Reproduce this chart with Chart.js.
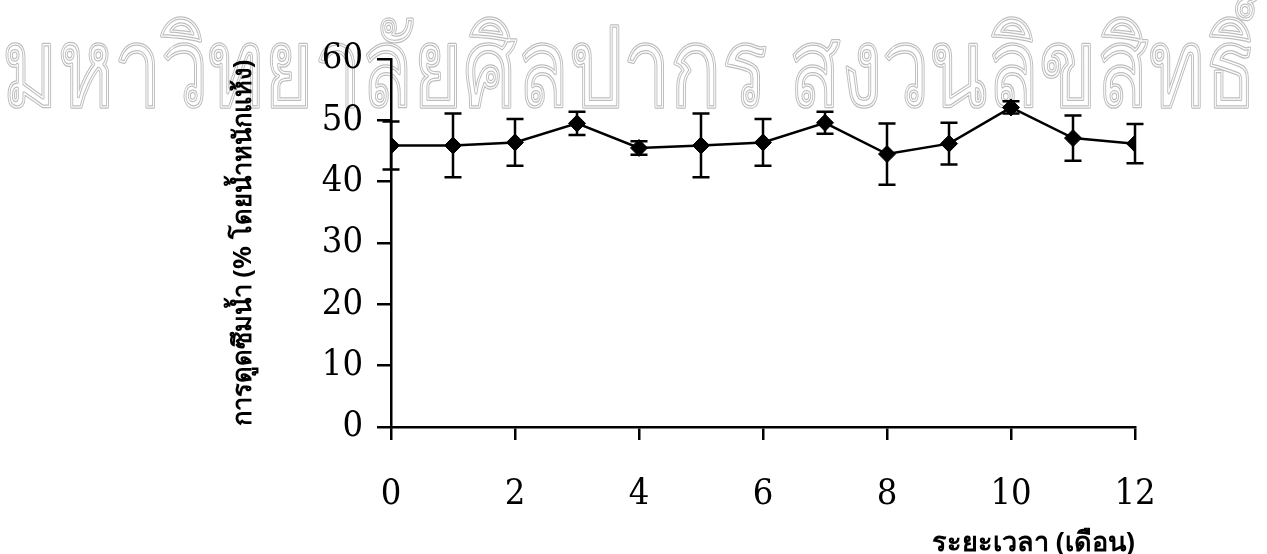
<!DOCTYPE html>
<html>
<head>
<meta charset="utf-8">
<script src="https://cdn.jsdelivr.net/npm/chart.js@4/dist/chart.umd.min.js"></script>
<style>
  html, body { margin: 0; padding: 0; background: #fff; }
  #wrap { width: 1267px; height: 554px; }
</style>
</head>
<body>
<div id="wrap"><canvas id="waterChart"></canvas></div>
<script>
// ข้อมูลจากกราฟ
const months = [0, 1, 2, 3, 4, 5, 6, 7, 8, 9, 10, 11, 12];
const absorption = [45.9, 45.9, 46.4, 49.5, 45.5, 45.9, 46.4, 49.6, 44.5, 46.2, 52.1, 47.1, 46.2];
const errors = [3.9, 5.2, 3.8, 1.9, 1.1, 5.2, 3.8, 1.8, 5.0, 3.4, 1.0, 3.7, 3.2];
const xTicks = [0, 2, 4, 6, 8, 10, 12];
const yTicks = [0, 10, 20, 30, 40, 50, 60];

const xTitle = 'ระยะเวลา (เดือน)';
const yTitle = 'การดูดซึมน้ำ (% โดยน้ำหนักแห้ง)';
const watermark = 'มหาวิทยาลัยศิลปากร สงวนลิขสิทธิ์';

const tickFont = { family: '"DejaVu Serif Condensed", "DejaVu Serif", serif', size: 36 };

// ลายน้ำตัวอักษรโปร่ง
const watermarkPlugin = {
    id: 'watermark',
    beforeDraw(chart) {
        const ctx = chart.ctx;
        ctx.save();
        ctx.font = '88px "Noto Sans", "DejaVu Sans", sans-serif';
        ctx.textBaseline = 'alphabetic';
        const w = ctx.measureText(watermark).width;
        ctx.translate(2, 106);
        ctx.scale(1255 / w, 1.24);
        ctx.lineJoin = 'round';
        ctx.strokeStyle = '#bdbdbd';
        ctx.lineWidth = 3;
        ctx.strokeText(watermark, 0, 0);
        ctx.strokeStyle = '#ffffff';
        ctx.lineWidth = 1;
        ctx.strokeText(watermark, 0, 0);
        ctx.restore();
    }
};

// เส้นแสดงค่าความคลาดเคลื่อน
const errorBarPlugin = {
    id: 'errorBars',
    afterDatasetsDraw(chart) {
        const ctx = chart.ctx;
        const xs = chart.scales.x;
        const ys = chart.scales.y;
        ctx.save();
        ctx.strokeStyle = '#000';
        ctx.lineWidth = 2.5;
        months.forEach((m, i) => {
            const px = xs.getPixelForValue(m);
            const top = ys.getPixelForValue(absorption[i] + errors[i]);
            const bot = ys.getPixelForValue(absorption[i] - errors[i]);
            ctx.beginPath();
            ctx.moveTo(px, top);
            ctx.lineTo(px, bot);
            ctx.moveTo(px - 8.5, top);
            ctx.lineTo(px + 8.5, top);
            ctx.moveTo(px - 8.5, bot);
            ctx.lineTo(px + 8.5, bot);
            ctx.stroke();
        });
        ctx.restore();
    }
};

const ctx = document.getElementById('waterChart').getContext('2d');
new Chart(ctx, {
    type: 'line',
    data: {
        datasets: [{
            data: months.map((m, i) => ({ x: m, y: absorption[i] })),
            borderColor: '#000',
            borderWidth: 2.5,
            backgroundColor: '#000',
            pointStyle: 'rectRot',
            pointRadius: 8.5,
            pointBackgroundColor: '#000',
            pointBorderColor: '#000',
            pointBorderWidth: 1,
            tension: 0
        }]
    },
    options: {
        responsive: true,
        maintainAspectRatio: false,
        animation: false,
        layout: { padding: { left: 224, top: 59, right: 132, bottom: 0 } },
        plugins: {
            legend: { display: false },
            tooltip: { enabled: false }
        },
        scales: {
            x: {
                type: 'linear',
                min: 0,
                max: 12,
                afterBuildTicks: (scale) => { scale.ticks = xTicks.map(v => ({ value: v })); },
                afterFit: (scale) => { scale.height = 127; },
                border: { display: true, color: '#000', width: 2.5 },
                grid: { drawOnChartArea: false, color: '#000', lineWidth: 2.5, tickLength: 13 },
                ticks: { color: '#000', font: tickFont, padding: 33, maxRotation: 0 },
                title: {
                    display: true,
                    text: xTitle,
                    align: 'end',
                    color: '#000',
                    font: { family: '"Noto Sans", "DejaVu Sans", sans-serif', size: 27, weight: 'bold', lineHeight: 0.8 },
                    padding: { top: 0, bottom: 0 }
                }
            },
            y: {
                min: 0,
                max: 60,
                afterBuildTicks: (scale) => { scale.ticks = yTicks.map(v => ({ value: v })); },
                afterFit: (scale) => { scale.width = 391 - 224; },
                border: { display: true, color: '#000', width: 2.5 },
                grid: { drawOnChartArea: false, color: '#000', lineWidth: 2.5, tickLength: 14 },
                ticks: { color: '#000', font: tickFont, padding: 14 },
                title: {
                    display: true,
                    text: yTitle,
                    color: '#000',
                    font: { family: '"Noto Sans", "DejaVu Sans", sans-serif', size: 25.5, weight: 'bold' },
                    padding: { top: 4, bottom: 0 }
                }
            }
        }
    },
    plugins: [watermarkPlugin, errorBarPlugin]
});
</script>
</body>
</html>
